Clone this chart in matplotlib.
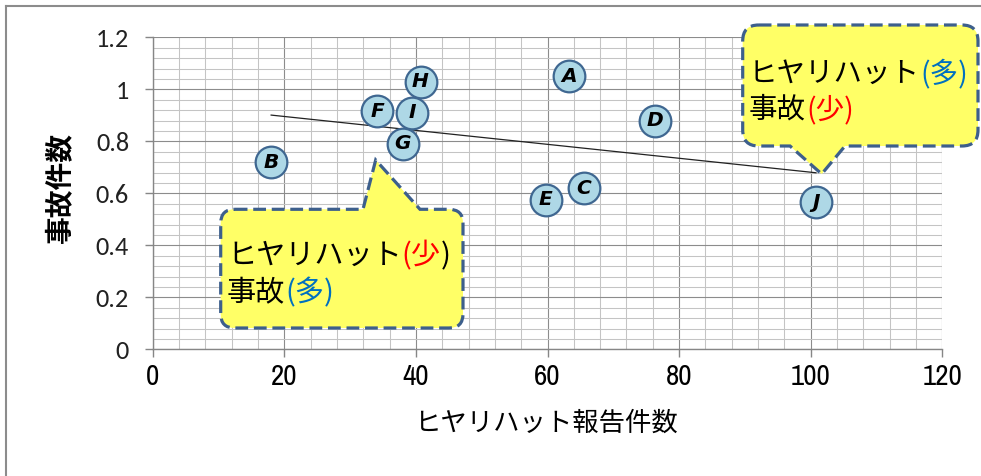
import matplotlib
matplotlib.use("Agg")
import matplotlib.pyplot as plt
import numpy as np
from matplotlib.path import Path
from matplotlib.patches import PathPatch
from matplotlib.lines import Line2D
from matplotlib.ticker import MultipleLocator, FuncFormatter
from matplotlib import transforms

JP = ["Noto Sans CJK JP", "DejaVu Sans"]

# data
labels = ["A", "B", "C", "D", "E", "F", "G", "H", "I", "J"]
near_miss = [63.3, 18.0, 65.5, 76.3, 59.7, 34.1, 38.0, 40.7, 39.4, 100.8]
accidents = [1.05, 0.72, 0.62, 0.88, 0.575, 0.915, 0.79, 1.03, 0.91, 0.565]

x_label = "ヒヤリハット報告件数"
y_label = "事故件数"

# callout texts: list of lines, each line a list of (text, colour)
left_note = [[("ヒヤリハット", "black"), ("(少", "#ff0000"), (")", "black")],
             [("事故", "black"), ("(多)", "#0070c0")]]
right_note = [[("ヒヤリハット", "black"), ("(多)", "#0070c0")],
              [("事故", "black"), ("(少)", "#ff0000")]]

W, H = 981, 476
fig = plt.figure(figsize=(W / 100, H / 100), dpi=100)
ax = fig.add_axes([152.7 / W, 1 - 349.3 / H, (942.3 - 152.7) / W, (349.3 - 37.3) / H])

ax.set_xlim(0, 120)
ax.set_ylim(0, 1.2)
ax.xaxis.set_major_locator(MultipleLocator(20))
ax.xaxis.set_minor_locator(MultipleLocator(4))
ax.yaxis.set_major_locator(MultipleLocator(0.2))
ax.yaxis.set_minor_locator(MultipleLocator(0.04))
ax.yaxis.set_major_formatter(FuncFormatter(lambda v, p: f"{v:g}"))
ax.grid(True, which="major", color="#8c8c8c", lw=0.8)
ax.grid(True, which="minor", color="#c4c4c4", lw=0.75)
ax.set_axisbelow(True)
for s in ["top", "right"]:
    ax.spines[s].set_visible(False)
for s in ["left", "bottom"]:
    ax.spines[s].set_color("#868686")
    ax.spines[s].set_linewidth(1.0)
ax.tick_params(which="major", length=6, color="#868686", width=1.0)
ax.tick_params(which="minor", length=0)
ax.tick_params(axis="x", pad=4, labelsize=21,
               labelfontfamily=["Liberation Sans Narrow", "Archivo Narrow", "Roboto Condensed", "DejaVu Sans"])
ax.tick_params(axis="y", pad=11, labelsize=19, labelfontfamily=["Carlito", "Lato", "DejaVu Sans"],
               labelcolor="#222222")

# linear trend line
k, b = np.polyfit(near_miss, accidents, 1)
xt = np.array([min(near_miss), max(near_miss)])
ax.plot(xt, k * xt + b, color="#222222", lw=0.9, zorder=3)

ax.scatter(near_miss, accidents, s=520, facecolor="#aed8e6", edgecolor="#3f6791",
           linewidths=1.6, zorder=4)
for lab, x, y in zip(labels, near_miss, accidents):
    ax.text(x, y, lab, ha="center", va="center", fontsize=14.5, fontweight="black",
            fontstyle="italic", color="black", zorder=5)


def px(xp, yp):
    # reference pixel -> data coords
    return (xp - 152.7) / 6.58, (349.3 - yp) / 260.0


def callout(box, base, tip, where, r=14):
    L, T = px(box[0], box[1])
    R, B = px(box[2], box[3])
    rx, ry = r / 6.58, r / 260.0
    b0 = px(base[0], 0)[0]
    b1 = px(base[1], 0)[0]
    tp = px(*tip)
    v, c = [], []
    v += [(L + rx, T)]; c += [Path.MOVETO]
    if where == "top":
        v += [(b0, T), tp, (b1, T)]; c += [Path.LINETO] * 3
    v += [(R - rx, T), (R, T), (R, T - ry)]; c += [Path.LINETO, Path.CURVE3, Path.CURVE3]
    v += [(R, B + ry), (R, B), (R - rx, B)]; c += [Path.LINETO, Path.CURVE3, Path.CURVE3]
    if where == "bottom":
        v += [(b1, B), tp, (b0, B)]; c += [Path.LINETO] * 3
    v += [(L + rx, B), (L, B), (L, B + ry)]; c += [Path.LINETO, Path.CURVE3, Path.CURVE3]
    v += [(L, T - ry), (L, T), (L + rx, T)]; c += [Path.LINETO, Path.CURVE3, Path.CURVE3]
    v += [(L + rx, T)]; c += [Path.CLOSEPOLY]
    p = PathPatch(Path(v, c), facecolor="#ffff66", edgecolor="#3d5f8c", lw=2.3,
                  linestyle=(0, (4, 1.8)), clip_on=False, zorder=10)
    ax.add_patch(p)


def rich_text(x0, y0, lines, size, spacing):
    renderer = fig.canvas.get_renderer()
    for i, parts in enumerate(lines):
        x, y = px(x0, y0 + i * spacing)
        off = 0.0
        for s, col in parts:
            tr = transforms.offset_copy(ax.transData, fig=fig, x=off, y=0, units="dots")
            t = ax.text(x, y, s, color=col, fontsize=size, family=JP, ha="left",
                        va="baseline", transform=tr, zorder=11, clip_on=False)
            off += t.get_window_extent(renderer).width


callout((220.7, 209.3, 463, 328), (363, 420), (375.7, 160), "top")
callout((742.7, 25, 978, 146), (790, 845), (821.7, 174), "bottom", r=16)
rich_text(227, 264, left_note, 21, 37)
rich_text(749, 82, right_note, 20.5, 36)

fig.text(61 / W, 1 - 188 / H, y_label, rotation=90, fontsize=20, fontweight="bold",
         family=JP, ha="center", va="center")
fig.text(546 / W, 1 - 423 / H, x_label, fontsize=19, family=JP, ha="center", va="center")

# outer chart frame (left and top edges visible)
fig.add_artist(Line2D([6 / W, 6 / W], [0, 1 - 6 / H], transform=fig.transFigure,
                      color="#8c8c8c", lw=1.5))
fig.add_artist(Line2D([6 / W, 1], [1 - 6 / H, 1 - 6 / H], transform=fig.transFigure,
                      color="#8c8c8c", lw=1.5))

fig.savefig("out.png", dpi=100)
